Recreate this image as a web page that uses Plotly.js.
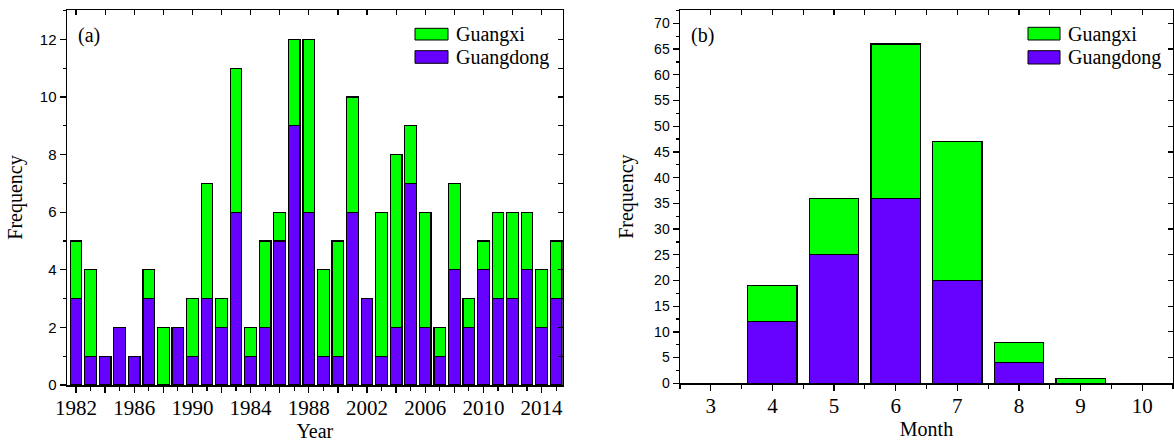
<!DOCTYPE html>
<html>
<head>
<meta charset="utf-8">
<script src="https://cdn.plot.ly/plotly-3.0.1.min.js"></script>
<style>
html,body{margin:0;padding:0;background:#fff;}
#chart{width:1174px;height:443px;}
</style>
</head>
<body>
<div id="chart"></div>
<script>
// ---- Data (a): yearly frequency ----
const years = [1982,1983,1984,1985,1986,1987,1988,1989,1990,1991,1992,1993,1994,1995,1996,1997,
               1998,1999,2000,2001,2002,2003,2004,2005,2006,2007,2008,2009,2010,2011,2012,2013,2014,2015];
const yearGuangdong = [3,1,1,2,1,3,0,2,1,3,2,6,1,2,5,9,6,1,1,6,3,1,2,7,2,1,4,2,4,3,3,4,2,3];
const yearGuangxi   = [2,3,0,0,0,1,2,0,2,4,1,5,1,3,1,3,6,3,4,4,0,5,6,2,4,1,3,1,1,3,3,2,2,2];
const yearTickVals = [1982,1984,1986,1988,1990,1992,1994,1996,1998,2000,2002,2004,2006,2008,2010,2012,2014];
const yearTickText = ['1982','','1986','','1990','','1984','','1988','','2002','','2006','','2010','','2014'];

// ---- Data (b): monthly frequency ----
const months = [3,4,5,6,7,8,9,10];
const monthGuangdong = [0,12,25,36,20,4,0,0];
const monthGuangxi   = [0,7,11,30,27,4,1,0];
const monthTickVals = [3,4,5,6,7,8,9,10];
const monthTickText = ['3','4','5','6','7','8','9','10'];

const seriesNames = ['Guangxi','Guangdong'];
const colGX = '#00FF00';
const colGD = '#6600FF';

const SERIF = 'Liberation Serif, Times New Roman, serif';
const SANS = 'Liberation Sans, Arial, sans-serif';
const BLACK = '#000';

const W = 1174, H = 443;
const px = x => x / W;
const py = y => 1 - y / H;

const barLine = {color: BLACK, width: 1.2};

const traces = [
  {type:'bar', x: years, y: yearGuangdong, name:'Guangdong', xaxis:'x', yaxis:'y',
   marker:{color: colGD, line: barLine}, width: 0.8, showlegend:false, hoverinfo:'x+y+name'},
  {type:'bar', x: years, y: yearGuangxi, name:'Guangxi', xaxis:'x', yaxis:'y',
   marker:{color: colGX, line: barLine}, width: 0.8, showlegend:false, hoverinfo:'x+y+name'},
  {type:'bar', x: months, y: monthGuangdong, name:'Guangdong', xaxis:'x2', yaxis:'y2',
   marker:{color: colGD, line: barLine}, width: 0.8, showlegend:false, hoverinfo:'x+y+name'},
  {type:'bar', x: months, y: monthGuangxi, name:'Guangxi', xaxis:'x2', yaxis:'y2',
   marker:{color: colGX, line: barLine}, width: 0.8, showlegend:false, hoverinfo:'x+y+name'},
  // empty helper traces so the mirrored inward-tick axes are drawn
  {type:'scatter', x:[], y:[], xaxis:'x3', yaxis:'y', showlegend:false, hoverinfo:'skip'},
  {type:'scatter', x:[], y:[], xaxis:'x', yaxis:'y3', showlegend:false, hoverinfo:'skip'},
  {type:'scatter', x:[], y:[], xaxis:'x4', yaxis:'y2', showlegend:false, hoverinfo:'skip'},
  {type:'scatter', x:[], y:[], xaxis:'x2', yaxis:'y4', showlegend:false, hoverinfo:'skip'}
];

const domA = [px(67), px(562.7)];
const domAy = [py(385), py(10)];
const domB = [px(680), px(1173)];
const domBy = [py(383.3), py(10)];
const rangeAx = [1981.38, 2015.45];
const rangeAy = [0, 13.02];
const rangeBx = [2.5, 10.5];
const rangeBy = [0, 72.6];

const frame = {showline:true, linecolor:BLACK, linewidth:1.5, mirror:true,
               showgrid:false, zeroline:false, fixedrange:true, automargin:false};
const innerAx = {showline:false, showgrid:false, zeroline:false, showticklabels:false,
                 ticks:'inside', ticklen:5, tickwidth:1.2, tickcolor:BLACK, fixedrange:true, automargin:false};

const titleFont = {family: SERIF, size: 20, color: BLACK};

const layout = {
  width: W, height: H,
  margin: {l:0, r:0, t:0, b:0},
  paper_bgcolor:'#fff', plot_bgcolor:'#fff',
  barmode:'stack',
  showlegend:false,
  xaxis: Object.assign({}, frame, {
    domain: domA, range: rangeAx, anchor:'y',
    tickmode:'array', tickvals: yearTickVals, ticktext: yearTickText,
    ticks:'outside', ticklen:6, tickwidth:1.3, tickcolor:BLACK,
    tickfont:{family: SERIF, size: 21, color: BLACK},
    ticklabelstandoff: -3,
    minor:{tickmode:'linear', tick0:1982, dtick:1, ticks:'outside', ticklen:4, tickwidth:1.2, tickcolor:BLACK, showgrid:false},
    title:{text:'Year', font: titleFont, standoff: 4}
  }),
  yaxis: Object.assign({}, frame, {
    domain: domAy, range: rangeAy, anchor:'x',
    tickmode:'linear', tick0:0, dtick:2,
    ticks:'outside', ticklen:6, tickwidth:1.3, tickcolor:BLACK,
    tickfont:{family: SANS, size: 15, color: BLACK},
    minor:{tickmode:'linear', tick0:0, dtick:1, ticks:'outside', ticklen:3, tickwidth:1.2, tickcolor:BLACK, showgrid:false},
    title:{text:'Frequency', font: titleFont, standoff: 12}
  }),
  xaxis3: Object.assign({}, innerAx, {
    overlaying:'x', anchor:'y', side:'top', range: rangeAx,
    tickmode:'linear', tick0:1982, dtick:2
  }),
  yaxis3: Object.assign({}, innerAx, {
    overlaying:'y', anchor:'x', side:'right', range: rangeAy,
    tickmode:'linear', tick0:0, dtick:1
  }),
  xaxis2: Object.assign({}, frame, {
    domain: domB, range: rangeBx, anchor:'y2',
    tickmode:'array', tickvals: monthTickVals, ticktext: monthTickText,
    ticks:'outside', ticklen:6, tickwidth:1.3, tickcolor:BLACK,
    tickfont:{family: SERIF, size: 21, color: BLACK},
    ticklabelstandoff: -3,
    minor:{tickmode:'linear', tick0:2.5, dtick:0.5, ticks:'outside', ticklen:4, tickwidth:1.2, tickcolor:BLACK, showgrid:false},
    title:{text:'Month', font: titleFont, standoff: 4}
  }),
  yaxis2: Object.assign({}, frame, {
    domain: domBy, range: rangeBy, anchor:'x2',
    tickmode:'linear', tick0:0, dtick:5,
    ticks:'outside', ticklen:6, tickwidth:1.3, tickcolor:BLACK,
    tickfont:{family: SANS, size: 14, color: BLACK},
    minor:{tickmode:'linear', tick0:0, dtick:2.5, ticks:'outside', ticklen:3, tickwidth:1.2, tickcolor:BLACK, showgrid:false},
    title:{text:'Frequency', font: titleFont, standoff: 15}
  }),
  xaxis4: Object.assign({}, innerAx, {
    overlaying:'x2', anchor:'y2', side:'top', range: rangeBx,
    tickmode:'linear', tick0:2.5, dtick:0.5
  }),
  yaxis4: Object.assign({}, innerAx, {
    overlaying:'y2', anchor:'x2', side:'right', range: rangeBy,
    tickmode:'linear', tick0:0, dtick:5
  }),
  shapes: [],
  annotations: []
};

// panel labels
layout.annotations.push({xref:'paper', yref:'paper', x:px(76), y:py(35), xanchor:'left', yanchor:'middle',
  text:'(a)', showarrow:false, font:{family:SERIF, size:20, color:BLACK}});
layout.annotations.push({xref:'paper', yref:'paper', x:px(689), y:py(35), xanchor:'left', yanchor:'middle',
  text:'(b)', showarrow:false, font:{family:SERIF, size:20, color:BLACK}});

// hand-made legends (wide swatches like the original)
function addLegend(x0, x1, tx, rows) {
  const cols = [colGX, colGD];
  rows.forEach((r, i) => {
    layout.shapes.push({type:'rect', xref:'paper', yref:'paper',
      x0:px(x0), x1:px(x1), y0:py(r[1]), y1:py(r[0]),
      fillcolor: cols[i], line:{color:BLACK, width:1}});
    layout.annotations.push({xref:'paper', yref:'paper', x:px(tx), y:py((r[0]+r[1])/2 + 0.5),
      xanchor:'left', yanchor:'middle', text: seriesNames[i], showarrow:false,
      font:{family:SERIF, size:20, color:BLACK}});
  });
}
addLegend(415, 448, 454, [[28.3,40],[50.7,63.3]]);
addLegend(1028, 1060, 1066, [[27.3,40],[50.7,64]]);

Plotly.newPlot('chart', traces, layout, {displayModeBar:false, staticPlot:true});
</script>
</body>
</html>
